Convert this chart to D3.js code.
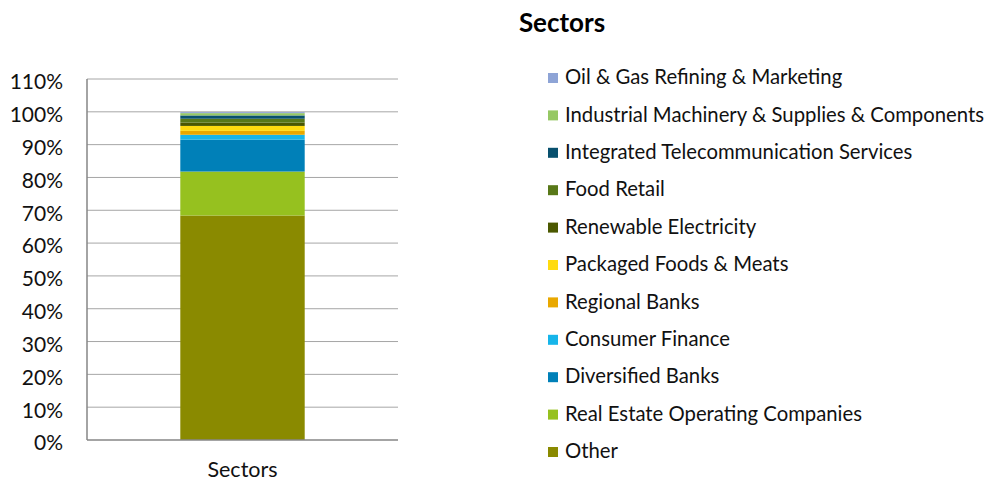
<!DOCTYPE html>
<html>
<head>
<meta charset="utf-8">
<script src="https://cdn.jsdelivr.net/npm/d3@7"></script>
<style>
  body { margin: 0; background: #fff; }
  svg { font-family: Lato, "Open Sans", sans-serif; }
</style>
</head>
<body>
<svg id="chart" width="992" height="481"></svg>
<script>
// stacked from bottom to top
const sectors = [
    "Other",
    "Real Estate Operating Companies",
    "Diversified Banks",
    "Consumer Finance",
    "Regional Banks",
    "Packaged Foods & Meats",
    "Renewable Electricity",
    "Food Retail",
    "Integrated Telecommunication Services",
    "Industrial Machinery & Supplies & Components",
    "Oil & Gas Refining & Marketing"
];
const shares = [68.4, 13.4, 9.7, 1.5, 1.2, 1.5, 1.0, 1.2, 1.0, 0.7, 0.3];
const colours = [
    "#8a8a00", "#96c11f", "#0080b8", "#16b5ea", "#e9a800",
    "#ffdb0f", "#4b5800", "#587818", "#08506e", "#96c864", "#8ea4d6"
];
const categories = ["Sectors"];
const yTicks = d3.range(0, 111, 10);

const svg = d3.select("#chart");
const plot = { left: 87, right: 398, top: 79, bottom: 440 };

const x = d3.scaleBand()
    .domain(categories)
    .range([plot.left, plot.right])
    .paddingInner(0.6)
    .paddingOuter(0.3);
const y = d3.scaleLinear()
    .domain([0, 110])
    .range([plot.bottom, plot.top]);

// gridlines
svg.append("g")
    .selectAll("line")
    .data(yTicks.filter(d => d > 0))
    .join("line")
    .attr("x1", plot.left)
    .attr("x2", plot.right)
    .attr("y1", d => y(d))
    .attr("y2", d => y(d))
    .attr("stroke", "#a6a6a6")
    .attr("stroke-width", 1);

// stacked bar
let cum = 0;
const stacked = shares.map((v, i) => {
    const d = { name: sectors[i], colour: colours[i], y0: cum, y1: cum + v };
    cum += v;
    return d;
});

svg.append("g")
    .selectAll("rect")
    .data(stacked)
    .join("rect")
    .attr("x", x("Sectors"))
    .attr("width", x.bandwidth())
    .attr("y", d => y(d.y1))
    .attr("height", d => y(d.y0) - y(d.y1))
    .attr("fill", d => d.colour);

// axes lines
svg.append("line")
    .attr("x1", plot.left).attr("x2", plot.left)
    .attr("y1", plot.top).attr("y2", plot.bottom)
    .attr("stroke", "#868686").attr("stroke-width", 1.5);
svg.append("line")
    .attr("x1", plot.left).attr("x2", plot.right)
    .attr("y1", plot.bottom).attr("y2", plot.bottom)
    .attr("stroke", "#868686").attr("stroke-width", 1.5);

// y tick labels
svg.append("g")
    .selectAll("text")
    .data(yTicks)
    .join("text")
    .attr("x", 63)
    .attr("y", d => y(d) + 3)
    .attr("dy", "0.35em")
    .attr("text-anchor", "end")
    .attr("font-size", 21)
    .attr("fill", "#111")
    .text(d => d + "%");

// x category label
svg.append("text")
    .attr("x", x("Sectors") + x.bandwidth() / 2)
    .attr("y", 469)
    .attr("dy", "0.35em")
    .attr("text-anchor", "middle")
    .attr("font-size", 21.5)
    .attr("fill", "#111")
    .text("Sectors");

// title
svg.append("text")
    .attr("x", 562)
    .attr("y", 23)
    .attr("dy", "0.35em")
    .attr("text-anchor", "middle")
    .attr("font-size", 26)
    .attr("font-weight", "bold")
    .attr("fill", "#000")
    .text("Sectors");

// legend, top item is last in stack
const legendItems = stacked.slice().reverse();
const legend = svg.append("g")
    .selectAll("g")
    .data(legendItems)
    .join("g")
    .attr("transform", (_, i) => `translate(548, ${77 + i * 37.4})`);

legend.append("rect")
    .attr("x", 0)
    .attr("y", -4)
    .attr("width", 10)
    .attr("height", 10)
    .attr("fill", d => d.colour);

legend.append("text")
    .attr("x", 17)
    .attr("y", 0)
    .attr("dy", "0.35em")
    .attr("font-size", 20.3)
    .attr("fill", "#111")
    .text(d => d.name);
</script>
</body>
</html>
